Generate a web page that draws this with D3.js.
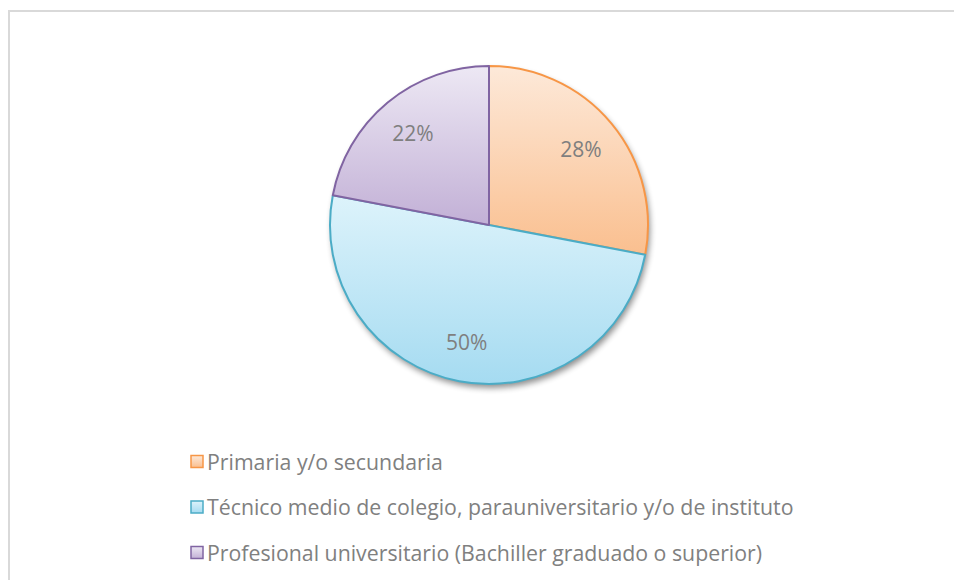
<!DOCTYPE html>
<html>
<head>
<meta charset="utf-8">
<script src="https://cdn.jsdelivr.net/npm/d3@7"></script>
<style>
  html, body { margin: 0; padding: 0; background: #ffffff; }
  svg { display: block; }
</style>
</head>
<body>
<svg id="chart" width="954" height="580"></svg>
<script>
// ---- data ----
const categories = [
  "Primaria y/o secundaria",
  "Técnico medio de colegio, parauniversitario y/o de instituto",
  "Profesional universitario (Bachiller graduado o superior)"
];
const values = [28, 50, 22];
const valueLabels = ["28%", "50%", "22%"];

// ---- styles ----
const strokeColors = ["#f79646", "#4bacc6", "#8064a2"];
const gradTop = ["#fde9d9", "#ddf3fb", "#ede8f4"];
const gradBottom = ["#fabf8f", "#a5dbf1", "#c2b0d6"];
const font = "'Open Sans', Lato, sans-serif";

const svg = d3.select("#chart");
const defs = svg.append("defs");

// frame
svg.append("rect")
  .attr("x", 9).attr("y", 11)
  .attr("width", 960).attr("height", 580)
  .attr("fill", "#ffffff")
  .attr("stroke", "#d9d9d9")
  .attr("stroke-width", 2);

// gradients
categories.forEach((c, i) => {
  const g = defs.append("linearGradient")
    .attr("id", "grad" + i)
    .attr("x1", 0).attr("y1", 0).attr("x2", 0).attr("y2", 1);
  g.append("stop").attr("offset", "0%").attr("stop-color", gradTop[i]);
  g.append("stop").attr("offset", "100%").attr("stop-color", gradBottom[i]);
});

// shadow filter
const f = defs.append("filter").attr("id", "shadow")
  .attr("x", "-20%").attr("y", "-20%").attr("width", "140%").attr("height", "140%");
f.append("feGaussianBlur").attr("in", "SourceAlpha").attr("stdDeviation", 3).attr("result", "blur");
f.append("feOffset").attr("in", "blur").attr("dx", 2).attr("dy", 4).attr("result", "off");
f.append("feComponentTransfer").attr("in", "off").attr("result", "offA")
  .append("feFuncA").attr("type", "linear").attr("slope", 0.45);
const m = f.append("feMerge");
m.append("feMergeNode").attr("in", "offA");
m.append("feMergeNode").attr("in", "SourceGraphic");

const cx = 489, cy = 225, r = 159;

const pie = d3.pie().sort(null).value(d => d);
const arcs = pie(values);
const arc = d3.arc().innerRadius(0).outerRadius(r);

const g = svg.append("g").attr("transform", `translate(${cx},${cy})`);

// shadow base circle
g.append("circle").attr("r", r).attr("fill", "#ffffff").attr("filter", "url(#shadow)");

g.selectAll("path.slice")
  .data(arcs)
  .join("path")
  .attr("class", "slice")
  .attr("d", arc)
  .attr("fill", (d, i) => `url(#grad${i})`)
  .attr("stroke", (d, i) => strokeColors[i])
  .attr("stroke-width", 2)
  .attr("stroke-linejoin", "round");

// value labels
const labelArc = d3.arc().innerRadius(r * 0.75).outerRadius(r * 0.75);
g.selectAll("text.val")
  .data(arcs)
  .join("text")
  .attr("class", "val")
  .attr("transform", d => {
    const [x, y] = labelArc.centroid(d);
    return `translate(${x},${y})`;
  })
  .attr("text-anchor", "middle")
  .attr("dy", "0.36em")
  .attr("font-family", font)
  .attr("font-size", 21)
  .attr("fill", "#7f7f7f")
  .text((d, i) => valueLabels[i]);

// legend
const legendY = d3.scalePoint().domain(categories).range([462, 553]);
const leg = svg.append("g");
const texts = [];
categories.forEach((c, i) => {
  const y = legendY(c);
  leg.append("rect")
    .attr("x", 191).attr("y", y - 6.5)
    .attr("width", 12).attr("height", 12)
    .attr("fill", `url(#grad${i})`)
    .attr("stroke", strokeColors[i])
    .attr("stroke-width", 1.5);
  texts.push(leg.append("text")
    .attr("x", 207).attr("y", y)
    .attr("dy", "0.36em")
    .attr("font-family", font)
    .attr("font-size", 18)
    .attr("fill", "#808080")
    .text(c));
});
// fit legend font so that the longest entry spans the same width as the reference
const longest = texts[1].node().getComputedTextLength();
const fs = 18 * 587 / longest;
texts.forEach(t => t.attr("font-size", fs));
</script>
</body>
</html>
